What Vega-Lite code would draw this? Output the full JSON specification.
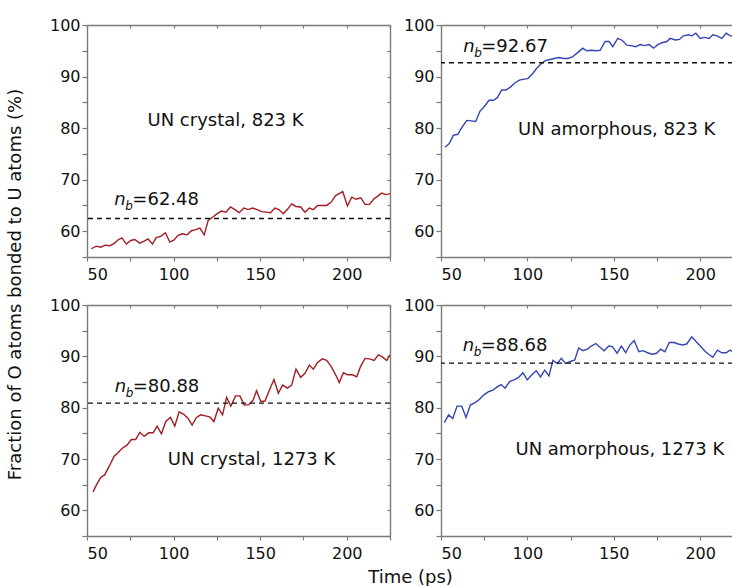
{
  "$schema": "https://vega.github.io/schema/vega-lite/v6.json",
  "padding": {"left": 5, "top": 17, "right": 0, "bottom": 0},
  "background": "white",
  "config": {
    "view": {"stroke": null},
    "font": "DejaVu Sans",
    "axis": {
      "labelFont": "DejaVu Sans", "labelFontSize": 16, "labelColor": "#111",
      "titleFont": "DejaVu Sans", "titleFontSize": 18, "titleFontWeight": "normal", "titleColor": "#111",
      "domainColor": "#7a7a7a", "domainWidth": 1.4, "tickColor": "#7a7a7a", "tickWidth": 1.2,
      "grid": false
    },
    "text": {"font": "DejaVu Sans", "fontSize": 18, "color": "#111"}
  },
  "datasets": {
    "series": [
      {"p":"TL","t":52.5,"v":56.6},{"p":"TL","t":55.4,"v":57.1},{"p":"TL","t":57.9,"v":56.9},{"p":"TL","t":60.6,"v":57.3},{"p":"TL","t":63.1,"v":57.2},{"p":"TL","t":65.6,"v":57.6},{"p":"TL","t":67.9,"v":58.3},{"p":"TL","t":70.2,"v":58.7},{"p":"TL","t":72.7,"v":57.5},{"p":"TL","t":75.3,"v":58.2},{"p":"TL","t":77.6,"v":58.4},{"p":"TL","t":80.5,"v":57.7},{"p":"TL","t":83.0,"v":58.1},{"p":"TL","t":85.3,"v":58.5},{"p":"TL","t":87.8,"v":57.5},{"p":"TL","t":90.1,"v":58.8},{"p":"TL","t":92.6,"v":59.0},{"p":"TL","t":95.3,"v":59.7},{"p":"TL","t":97.8,"v":57.9},{"p":"TL","t":100.3,"v":58.3},{"p":"TL","t":102.6,"v":59.2},{"p":"TL","t":105.1,"v":59.5},{"p":"TL","t":107.8,"v":59.3},{"p":"TL","t":110.3,"v":60.1},{"p":"TL","t":112.8,"v":60.3},{"p":"TL","t":115.2,"v":60.6},{"p":"TL","t":117.7,"v":59.3},{"p":"TL","t":120.0,"v":62.1},{"p":"TL","t":122.5,"v":62.7},{"p":"TL","t":125.2,"v":63.4},{"p":"TL","t":127.7,"v":63.9},{"p":"TL","t":130.2,"v":63.7},{"p":"TL","t":132.9,"v":64.7},{"p":"TL","t":135.4,"v":64.2},{"p":"TL","t":137.9,"v":63.6},{"p":"TL","t":140.6,"v":64.5},{"p":"TL","t":143.1,"v":64.2},{"p":"TL","t":145.6,"v":64.5},{"p":"TL","t":148.3,"v":64.2},{"p":"TL","t":150.8,"v":63.8},{"p":"TL","t":153.3,"v":63.7},{"p":"TL","t":156.0,"v":63.6},{"p":"TL","t":158.5,"v":64.5},{"p":"TL","t":160.8,"v":64.2},{"p":"TL","t":163.4,"v":63.4},{"p":"TL","t":165.9,"v":64.3},{"p":"TL","t":168.2,"v":65.3},{"p":"TL","t":170.7,"v":64.8},{"p":"TL","t":173.4,"v":64.7},{"p":"TL","t":175.9,"v":63.7},{"p":"TL","t":178.4,"v":64.5},{"p":"TL","t":180.7,"v":64.2},{"p":"TL","t":183.2,"v":65.0},{"p":"TL","t":185.9,"v":65.0},{"p":"TL","t":188.4,"v":65.0},{"p":"TL","t":190.9,"v":65.6},{"p":"TL","t":193.6,"v":66.9},{"p":"TL","t":197.7,"v":67.7},{"p":"TL","t":200.4,"v":64.9},{"p":"TL","t":202.9,"v":66.6},{"p":"TL","t":205.4,"v":66.2},{"p":"TL","t":208.1,"v":66.5},{"p":"TL","t":210.6,"v":65.2},{"p":"TL","t":213.1,"v":65.2},{"p":"TL","t":215.8,"v":66.3},{"p":"TL","t":218.3,"v":66.9},{"p":"TL","t":220.2,"v":67.4},{"p":"TL","t":222.7,"v":67.1},{"p":"TL","t":225.0,"v":67.3},
      {"p":"TR","t":52.3,"v":76.3},{"p":"TR","t":54.8,"v":77.0},{"p":"TR","t":57.1,"v":78.6},{"p":"TR","t":59.7,"v":78.8},{"p":"TR","t":62.0,"v":80.1},{"p":"TR","t":64.9,"v":81.5},{"p":"TR","t":67.4,"v":81.4},{"p":"TR","t":70.1,"v":81.3},{"p":"TR","t":72.6,"v":83.3},{"p":"TR","t":75.1,"v":84.2},{"p":"TR","t":77.8,"v":85.4},{"p":"TR","t":80.3,"v":85.4},{"p":"TR","t":82.6,"v":85.9},{"p":"TR","t":85.1,"v":87.4},{"p":"TR","t":87.6,"v":87.4},{"p":"TR","t":90.3,"v":88.0},{"p":"TR","t":92.9,"v":88.8},{"p":"TR","t":95.4,"v":89.3},{"p":"TR","t":98.1,"v":89.5},{"p":"TR","t":100.2,"v":89.6},{"p":"TR","t":102.9,"v":90.5},{"p":"TR","t":105.4,"v":91.6},{"p":"TR","t":107.9,"v":92.5},{"p":"TR","t":110.4,"v":93.1},{"p":"TR","t":113.1,"v":93.3},{"p":"TR","t":115.6,"v":93.5},{"p":"TR","t":118.3,"v":93.7},{"p":"TR","t":120.8,"v":93.5},{"p":"TR","t":123.4,"v":93.5},{"p":"TR","t":126.1,"v":93.8},{"p":"TR","t":128.6,"v":94.5},{"p":"TR","t":132.0,"v":95.5},{"p":"TR","t":134.4,"v":95.0},{"p":"TR","t":136.9,"v":95.1},{"p":"TR","t":139.6,"v":95.0},{"p":"TR","t":142.1,"v":95.1},{"p":"TR","t":145.0,"v":96.8},{"p":"TR","t":147.3,"v":96.8},{"p":"TR","t":149.4,"v":95.8},{"p":"TR","t":152.3,"v":97.4},{"p":"TR","t":155.0,"v":97.0},{"p":"TR","t":157.5,"v":96.1},{"p":"TR","t":160.0,"v":96.0},{"p":"TR","t":162.7,"v":95.8},{"p":"TR","t":165.3,"v":96.2},{"p":"TR","t":167.8,"v":96.0},{"p":"TR","t":170.5,"v":96.2},{"p":"TR","t":173.0,"v":95.5},{"p":"TR","t":175.5,"v":96.2},{"p":"TR","t":178.2,"v":96.6},{"p":"TR","t":180.7,"v":96.8},{"p":"TR","t":182.6,"v":97.4},{"p":"TR","t":185.5,"v":97.1},{"p":"TR","t":188.0,"v":97.2},{"p":"TR","t":190.3,"v":97.9},{"p":"TR","t":193.2,"v":98.1},{"p":"TR","t":195.2,"v":97.9},{"p":"TR","t":197.5,"v":98.4},{"p":"TR","t":200.0,"v":97.4},{"p":"TR","t":202.5,"v":97.6},{"p":"TR","t":205.2,"v":97.4},{"p":"TR","t":207.3,"v":98.1},{"p":"TR","t":209.7,"v":97.9},{"p":"TR","t":212.5,"v":97.4},{"p":"TR","t":215.1,"v":98.4},{"p":"TR","t":217.4,"v":97.9},{"p":"TR","t":219.0,"v":97.9},
      {"p":"BL","t":53.5,"v":63.6},{"p":"BL","t":55.4,"v":64.9},{"p":"BL","t":57.9,"v":66.4},{"p":"BL","t":60.2,"v":66.9},{"p":"BL","t":62.7,"v":68.5},{"p":"BL","t":65.6,"v":70.5},{"p":"BL","t":67.9,"v":71.2},{"p":"BL","t":70.4,"v":72.1},{"p":"BL","t":73.1,"v":72.7},{"p":"BL","t":75.6,"v":73.8},{"p":"BL","t":78.1,"v":73.8},{"p":"BL","t":80.5,"v":75.2},{"p":"BL","t":83.0,"v":74.4},{"p":"BL","t":85.7,"v":75.1},{"p":"BL","t":88.2,"v":75.1},{"p":"BL","t":90.5,"v":76.4},{"p":"BL","t":93.0,"v":74.9},{"p":"BL","t":95.5,"v":77.3},{"p":"BL","t":98.2,"v":78.1},{"p":"BL","t":100.7,"v":76.4},{"p":"BL","t":103.2,"v":79.2},{"p":"BL","t":105.9,"v":78.7},{"p":"BL","t":108.4,"v":77.9},{"p":"BL","t":110.7,"v":76.6},{"p":"BL","t":113.2,"v":78.1},{"p":"BL","t":115.7,"v":78.6},{"p":"BL","t":118.4,"v":78.4},{"p":"BL","t":120.9,"v":78.2},{"p":"BL","t":123.3,"v":77.3},{"p":"BL","t":125.8,"v":79.9},{"p":"BL","t":128.3,"v":78.6},{"p":"BL","t":130.6,"v":82.0},{"p":"BL","t":133.1,"v":80.3},{"p":"BL","t":135.8,"v":82.3},{"p":"BL","t":138.3,"v":82.3},{"p":"BL","t":140.8,"v":80.5},{"p":"BL","t":143.5,"v":80.6},{"p":"BL","t":146.0,"v":81.5},{"p":"BL","t":147.9,"v":83.3},{"p":"BL","t":150.4,"v":81.2},{"p":"BL","t":152.8,"v":81.3},{"p":"BL","t":155.3,"v":83.4},{"p":"BL","t":158.0,"v":85.5},{"p":"BL","t":160.5,"v":82.8},{"p":"BL","t":163.0,"v":84.4},{"p":"BL","t":165.7,"v":83.8},{"p":"BL","t":168.2,"v":84.4},{"p":"BL","t":170.7,"v":87.5},{"p":"BL","t":173.4,"v":85.9},{"p":"BL","t":175.9,"v":86.7},{"p":"BL","t":178.4,"v":88.3},{"p":"BL","t":180.7,"v":87.5},{"p":"BL","t":183.2,"v":88.8},{"p":"BL","t":185.9,"v":89.5},{"p":"BL","t":188.4,"v":89.2},{"p":"BL","t":190.9,"v":88.1},{"p":"BL","t":193.6,"v":86.4},{"p":"BL","t":195.7,"v":84.9},{"p":"BL","t":198.1,"v":86.8},{"p":"BL","t":200.6,"v":86.4},{"p":"BL","t":203.3,"v":86.4},{"p":"BL","t":205.8,"v":86.0},{"p":"BL","t":208.1,"v":88.1},{"p":"BL","t":210.6,"v":89.6},{"p":"BL","t":213.1,"v":89.5},{"p":"BL","t":215.8,"v":89.2},{"p":"BL","t":218.3,"v":90.3},{"p":"BL","t":220.6,"v":89.9},{"p":"BL","t":223.1,"v":89.2},{"p":"BL","t":225.0,"v":90.3},
      {"p":"BR","t":51.9,"v":77.1},{"p":"BR","t":54.4,"v":78.6},{"p":"BR","t":56.8,"v":77.9},{"p":"BR","t":59.3,"v":80.3},{"p":"BR","t":62.0,"v":80.3},{"p":"BR","t":64.5,"v":78.1},{"p":"BR","t":67.0,"v":80.5},{"p":"BR","t":69.7,"v":81.0},{"p":"BR","t":72.2,"v":81.6},{"p":"BR","t":74.8,"v":82.5},{"p":"BR","t":77.5,"v":83.1},{"p":"BR","t":80.0,"v":83.4},{"p":"BR","t":82.3,"v":84.0},{"p":"BR","t":84.8,"v":84.5},{"p":"BR","t":87.1,"v":83.8},{"p":"BR","t":89.7,"v":85.1},{"p":"BR","t":92.2,"v":85.4},{"p":"BR","t":94.9,"v":85.9},{"p":"BR","t":97.4,"v":86.8},{"p":"BR","t":99.9,"v":85.4},{"p":"BR","t":102.6,"v":86.4},{"p":"BR","t":105.1,"v":87.2},{"p":"BR","t":107.6,"v":86.0},{"p":"BR","t":110.0,"v":87.3},{"p":"BR","t":112.5,"v":86.2},{"p":"BR","t":114.8,"v":89.2},{"p":"BR","t":117.3,"v":88.6},{"p":"BR","t":119.6,"v":89.6},{"p":"BR","t":122.1,"v":88.6},{"p":"BR","t":124.9,"v":89.0},{"p":"BR","t":127.4,"v":89.3},{"p":"BR","t":129.7,"v":91.6},{"p":"BR","t":132.2,"v":91.1},{"p":"BR","t":134.7,"v":91.4},{"p":"BR","t":137.0,"v":92.0},{"p":"BR","t":139.6,"v":92.5},{"p":"BR","t":141.9,"v":91.8},{"p":"BR","t":144.4,"v":91.1},{"p":"BR","t":147.1,"v":92.0},{"p":"BR","t":149.2,"v":91.9},{"p":"BR","t":151.9,"v":90.6},{"p":"BR","t":154.4,"v":92.0},{"p":"BR","t":156.9,"v":90.7},{"p":"BR","t":159.3,"v":92.2},{"p":"BR","t":161.8,"v":93.1},{"p":"BR","t":164.5,"v":90.9},{"p":"BR","t":167.0,"v":91.1},{"p":"BR","t":169.5,"v":90.7},{"p":"BR","t":172.2,"v":90.4},{"p":"BR","t":174.8,"v":90.6},{"p":"BR","t":177.1,"v":91.4},{"p":"BR","t":179.6,"v":90.9},{"p":"BR","t":182.1,"v":92.7},{"p":"BR","t":184.8,"v":92.7},{"p":"BR","t":187.3,"v":92.4},{"p":"BR","t":189.8,"v":92.2},{"p":"BR","t":192.2,"v":92.4},{"p":"BR","t":195.1,"v":93.8},{"p":"BR","t":197.6,"v":92.9},{"p":"BR","t":200.3,"v":91.9},{"p":"BR","t":202.8,"v":91.0},{"p":"BR","t":205.3,"v":90.3},{"p":"BR","t":207.3,"v":89.8},{"p":"BR","t":210.0,"v":91.2},{"p":"BR","t":212.5,"v":90.7},{"p":"BR","t":215.0,"v":90.7},{"p":"BR","t":217.3,"v":91.2},{"p":"BR","t":219.0,"v":90.9}
    ],
    "labels": [
      {"p":"TL","nb":62.48,"nbx":65.8,"nby":65.0,"nbt":"=62.48","name":"UN crystal, 823 K","cx":130,"cy":80.5},
      {"p":"TR","nb":92.67,"nbx":62.9,"nby":94.8,"nbt":"=92.67","name":"UN amorphous, 823 K","cx":151.7,"cy":78.6},
      {"p":"BL","nb":80.88,"nbx":66.0,"nby":83.1,"nbt":"=80.88","name":"UN crystal, 1273 K","cx":145,"cy":68.8},
      {"p":"BR","nb":88.68,"nbx":62.6,"nby":91.0,"nbt":"=88.68","name":"UN amorphous, 1273 K","cx":153.5,"cy":70.8}
    ]
  },
  "bounds": "flush",
  "columns": 2,
  "spacing": {"row": 48, "column": 51},
  "concat": [
    {
      "width": 303, "height": 232,
      "resolve": {"axis": {"x": "independent", "y": "independent"}},
      "layer": [
        {"data": {"name": "series"}, "transform": [{"filter": "datum.p === 'TL'"}],
         "mark": {"type": "line", "color": "#a11d21", "strokeWidth": 1.4, "clip": true},
         "encoding": {
           "x": {"field": "t", "type": "quantitative", "scale": {"domain": [50, 225], "nice": false, "zero": false},
                 "axis": {"orient": "bottom", "title": null, "values": [50,75,100,125,150,175,200,225], "labelExpr": "datum.value % 50 === 0 ? datum.label : ''", "tickSize": 4, "labelPadding": 5}},
           "y": {"field": "v", "type": "quantitative", "scale": {"domain": [55, 100], "nice": false, "zero": false},
                 "axis": {"orient": "left", "title": null, "values": [55,60,65,70,75,80,85,90,95,100], "labelExpr": "datum.value % 10 === 0 ? datum.label : ''", "tickSize": 5, "labelPadding": 2}}
         }},
        {"data": {"name": "labels"}, "transform": [{"filter": "datum.p === 'TL'"}],
         "mark": {"type": "rule", "color": "#111", "strokeDash": [5, 4], "strokeWidth": 1.4},
         "encoding": {"y": {"field": "nb", "type": "quantitative", "scale": {"domain": [55, 100]}, "axis": null}}},
        {"data": {"name": "labels"}, "transform": [{"filter": "datum.p === 'TL'"}],
         "mark": {"type": "text", "text": "n", "fontStyle": "italic", "align": "left", "baseline": "alphabetic"},
         "encoding": {
           "x": {"field": "nbx", "type": "quantitative", "scale": {"domain": [50, 225]}, "axis": {"orient": "top", "title": null, "values": [50,75,100,125,150,175,200,225], "labels": false, "tickSize": -3}},
           "y": {"field": "nby", "type": "quantitative", "scale": {"domain": [55, 100]}, "axis": {"orient": "right", "title": null, "values": [55,60,65,70,75,80,85,90,95,100], "labels": false, "tickSize": -3}}}},
        {"data": {"name": "labels"}, "transform": [{"filter": "datum.p === 'TL'"}],
         "mark": {"type": "text", "text": "b", "fontStyle": "italic", "fontSize": 12, "align": "left", "baseline": "alphabetic", "dx": 11, "dy": 5},
         "encoding": {"x": {"field": "nbx", "type": "quantitative", "axis": null}, "y": {"field": "nby", "type": "quantitative", "axis": null}}},
        {"data": {"name": "labels"}, "transform": [{"filter": "datum.p === 'TL'"}],
         "mark": {"type": "text", "align": "left", "baseline": "alphabetic", "dx": 18},
         "encoding": {"x": {"field": "nbx", "type": "quantitative", "axis": null}, "y": {"field": "nby", "type": "quantitative", "axis": null}, "text": {"field": "nbt"}}},
        {"data": {"name": "labels"}, "transform": [{"filter": "datum.p === 'TL'"}],
         "mark": {"type": "text", "align": "center", "baseline": "alphabetic"},
         "encoding": {"x": {"field": "cx", "type": "quantitative", "axis": null}, "y": {"field": "cy", "type": "quantitative", "axis": null}, "text": {"field": "name"}}}
      ]
    },
    {
      "width": 292, "height": 232,
      "resolve": {"axis": {"x": "independent", "y": "independent"}},
      "layer": [
        {"data": {"name": "series"}, "transform": [{"filter": "datum.p === 'TR'"}],
         "mark": {"type": "line", "color": "#3346b0", "strokeWidth": 1.4, "clip": true},
         "encoding": {
           "x": {"field": "t", "type": "quantitative", "scale": {"domain": [50, 219], "nice": false, "zero": false},
                 "axis": {"orient": "bottom", "title": null, "values": [50,75,100,125,150,175,200], "labelExpr": "datum.value % 50 === 0 ? datum.label : ''", "tickSize": 4, "labelPadding": 5}},
           "y": {"field": "v", "type": "quantitative", "scale": {"domain": [55, 100], "nice": false, "zero": false},
                 "axis": {"orient": "left", "title": null, "values": [55,60,65,70,75,80,85,90,95,100], "labelExpr": "datum.value % 10 === 0 ? datum.label : ''", "tickSize": 5, "labelPadding": 2}}
         }},
        {"data": {"name": "labels"}, "transform": [{"filter": "datum.p === 'TR'"}],
         "mark": {"type": "rule", "color": "#111", "strokeDash": [5, 4], "strokeWidth": 1.4},
         "encoding": {"y": {"field": "nb", "type": "quantitative", "scale": {"domain": [55, 100]}, "axis": null}}},
        {"data": {"name": "labels"}, "transform": [{"filter": "datum.p === 'TR'"}],
         "mark": {"type": "text", "text": "n", "fontStyle": "italic", "align": "left", "baseline": "alphabetic"},
         "encoding": {
           "x": {"field": "nbx", "type": "quantitative", "scale": {"domain": [50, 219]}, "axis": {"orient": "top", "title": null, "values": [50,75,100,125,150,175,200], "labels": false, "tickSize": -3}},
           "y": {"field": "nby", "type": "quantitative", "scale": {"domain": [55, 100]}, "axis": null}}},
        {"data": {"name": "labels"}, "transform": [{"filter": "datum.p === 'TR'"}],
         "mark": {"type": "text", "text": "b", "fontStyle": "italic", "fontSize": 12, "align": "left", "baseline": "alphabetic", "dx": 11, "dy": 5},
         "encoding": {"x": {"field": "nbx", "type": "quantitative", "axis": null}, "y": {"field": "nby", "type": "quantitative", "axis": null}}},
        {"data": {"name": "labels"}, "transform": [{"filter": "datum.p === 'TR'"}],
         "mark": {"type": "text", "align": "left", "baseline": "alphabetic", "dx": 18},
         "encoding": {"x": {"field": "nbx", "type": "quantitative", "axis": null}, "y": {"field": "nby", "type": "quantitative", "axis": null}, "text": {"field": "nbt"}}},
        {"data": {"name": "labels"}, "transform": [{"filter": "datum.p === 'TR'"}],
         "mark": {"type": "text", "align": "center", "baseline": "alphabetic"},
         "encoding": {"x": {"field": "cx", "type": "quantitative", "axis": null}, "y": {"field": "cy", "type": "quantitative", "axis": null}, "text": {"field": "name"}}}
      ]
    },
    {
      "width": 303, "height": 231,
      "resolve": {"axis": {"x": "independent", "y": "independent"}},
      "layer": [
        {"data": {"name": "series"}, "transform": [{"filter": "datum.p === 'BL'"}],
         "mark": {"type": "line", "color": "#a11d21", "strokeWidth": 1.4, "clip": true},
         "encoding": {
           "x": {"field": "t", "type": "quantitative", "scale": {"domain": [50, 225], "nice": false, "zero": false},
                 "axis": {"orient": "bottom", "title": "Time (ps)", "titleX": 323, "titleY": 46, "titleBaseline": "alphabetic", "titleAlign": "center", "values": [50,75,100,125,150,175,200,225], "labelExpr": "datum.value % 50 === 0 ? datum.label : ''", "tickSize": 4, "labelPadding": 5}},
           "y": {"field": "v", "type": "quantitative", "scale": {"domain": [55, 100], "nice": false, "zero": false},
                 "axis": {"orient": "left", "title": "Fraction of O atoms bonded to U atoms (%)", "titleX": -72, "titleY": -21, "titleBaseline": "middle", "titleAlign": "center", "titleAngle": 270, "values": [55,60,65,70,75,80,85,90,95,100], "labelExpr": "datum.value % 10 === 0 ? datum.label : ''", "tickSize": 5, "labelPadding": 2}}
         }},
        {"data": {"name": "labels"}, "transform": [{"filter": "datum.p === 'BL'"}],
         "mark": {"type": "rule", "color": "#111", "strokeDash": [5, 4], "strokeWidth": 1.4},
         "encoding": {"y": {"field": "nb", "type": "quantitative", "scale": {"domain": [55, 100]}, "axis": null}}},
        {"data": {"name": "labels"}, "transform": [{"filter": "datum.p === 'BL'"}],
         "mark": {"type": "text", "text": "n", "fontStyle": "italic", "align": "left", "baseline": "alphabetic"},
         "encoding": {
           "x": {"field": "nbx", "type": "quantitative", "scale": {"domain": [50, 225]}, "axis": {"orient": "top", "title": null, "values": [50,75,100,125,150,175,200,225], "labels": false, "tickSize": -3}},
           "y": {"field": "nby", "type": "quantitative", "scale": {"domain": [55, 100]}, "axis": {"orient": "right", "title": null, "values": [55,60,65,70,75,80,85,90,95,100], "labels": false, "tickSize": -3}}}},
        {"data": {"name": "labels"}, "transform": [{"filter": "datum.p === 'BL'"}],
         "mark": {"type": "text", "text": "b", "fontStyle": "italic", "fontSize": 12, "align": "left", "baseline": "alphabetic", "dx": 11, "dy": 5},
         "encoding": {"x": {"field": "nbx", "type": "quantitative", "axis": null}, "y": {"field": "nby", "type": "quantitative", "axis": null}}},
        {"data": {"name": "labels"}, "transform": [{"filter": "datum.p === 'BL'"}],
         "mark": {"type": "text", "align": "left", "baseline": "alphabetic", "dx": 18},
         "encoding": {"x": {"field": "nbx", "type": "quantitative", "axis": null}, "y": {"field": "nby", "type": "quantitative", "axis": null}, "text": {"field": "nbt"}}},
        {"data": {"name": "labels"}, "transform": [{"filter": "datum.p === 'BL'"}],
         "mark": {"type": "text", "align": "center", "baseline": "alphabetic"},
         "encoding": {"x": {"field": "cx", "type": "quantitative", "axis": null}, "y": {"field": "cy", "type": "quantitative", "axis": null}, "text": {"field": "name"}}}
      ]
    },
    {
      "width": 292, "height": 231,
      "resolve": {"axis": {"x": "independent", "y": "independent"}},
      "layer": [
        {"data": {"name": "series"}, "transform": [{"filter": "datum.p === 'BR'"}],
         "mark": {"type": "line", "color": "#3346b0", "strokeWidth": 1.4, "clip": true},
         "encoding": {
           "x": {"field": "t", "type": "quantitative", "scale": {"domain": [50, 219], "nice": false, "zero": false},
                 "axis": {"orient": "bottom", "title": null, "values": [50,75,100,125,150,175,200], "labelExpr": "datum.value % 50 === 0 ? datum.label : ''", "tickSize": 4, "labelPadding": 5}},
           "y": {"field": "v", "type": "quantitative", "scale": {"domain": [55, 100], "nice": false, "zero": false},
                 "axis": {"orient": "left", "title": null, "values": [55,60,65,70,75,80,85,90,95,100], "labelExpr": "datum.value % 10 === 0 ? datum.label : ''", "tickSize": 5, "labelPadding": 2}}
         }},
        {"data": {"name": "labels"}, "transform": [{"filter": "datum.p === 'BR'"}],
         "mark": {"type": "rule", "color": "#111", "strokeDash": [5, 4], "strokeWidth": 1.4},
         "encoding": {"y": {"field": "nb", "type": "quantitative", "scale": {"domain": [55, 100]}, "axis": null}}},
        {"data": {"name": "labels"}, "transform": [{"filter": "datum.p === 'BR'"}],
         "mark": {"type": "text", "text": "n", "fontStyle": "italic", "align": "left", "baseline": "alphabetic"},
         "encoding": {
           "x": {"field": "nbx", "type": "quantitative", "scale": {"domain": [50, 219]}, "axis": {"orient": "top", "title": null, "values": [50,75,100,125,150,175,200], "labels": false, "tickSize": -3}},
           "y": {"field": "nby", "type": "quantitative", "scale": {"domain": [55, 100]}, "axis": null}}},
        {"data": {"name": "labels"}, "transform": [{"filter": "datum.p === 'BR'"}],
         "mark": {"type": "text", "text": "b", "fontStyle": "italic", "fontSize": 12, "align": "left", "baseline": "alphabetic", "dx": 11, "dy": 5},
         "encoding": {"x": {"field": "nbx", "type": "quantitative", "axis": null}, "y": {"field": "nby", "type": "quantitative", "axis": null}}},
        {"data": {"name": "labels"}, "transform": [{"filter": "datum.p === 'BR'"}],
         "mark": {"type": "text", "align": "left", "baseline": "alphabetic", "dx": 18},
         "encoding": {"x": {"field": "nbx", "type": "quantitative", "axis": null}, "y": {"field": "nby", "type": "quantitative", "axis": null}, "text": {"field": "nbt"}}},
        {"data": {"name": "labels"}, "transform": [{"filter": "datum.p === 'BR'"}],
         "mark": {"type": "text", "align": "center", "baseline": "alphabetic"},
         "encoding": {"x": {"field": "cx", "type": "quantitative", "axis": null}, "y": {"field": "cy", "type": "quantitative", "axis": null}, "text": {"field": "name"}}}
      ]
    }
  ]
}
